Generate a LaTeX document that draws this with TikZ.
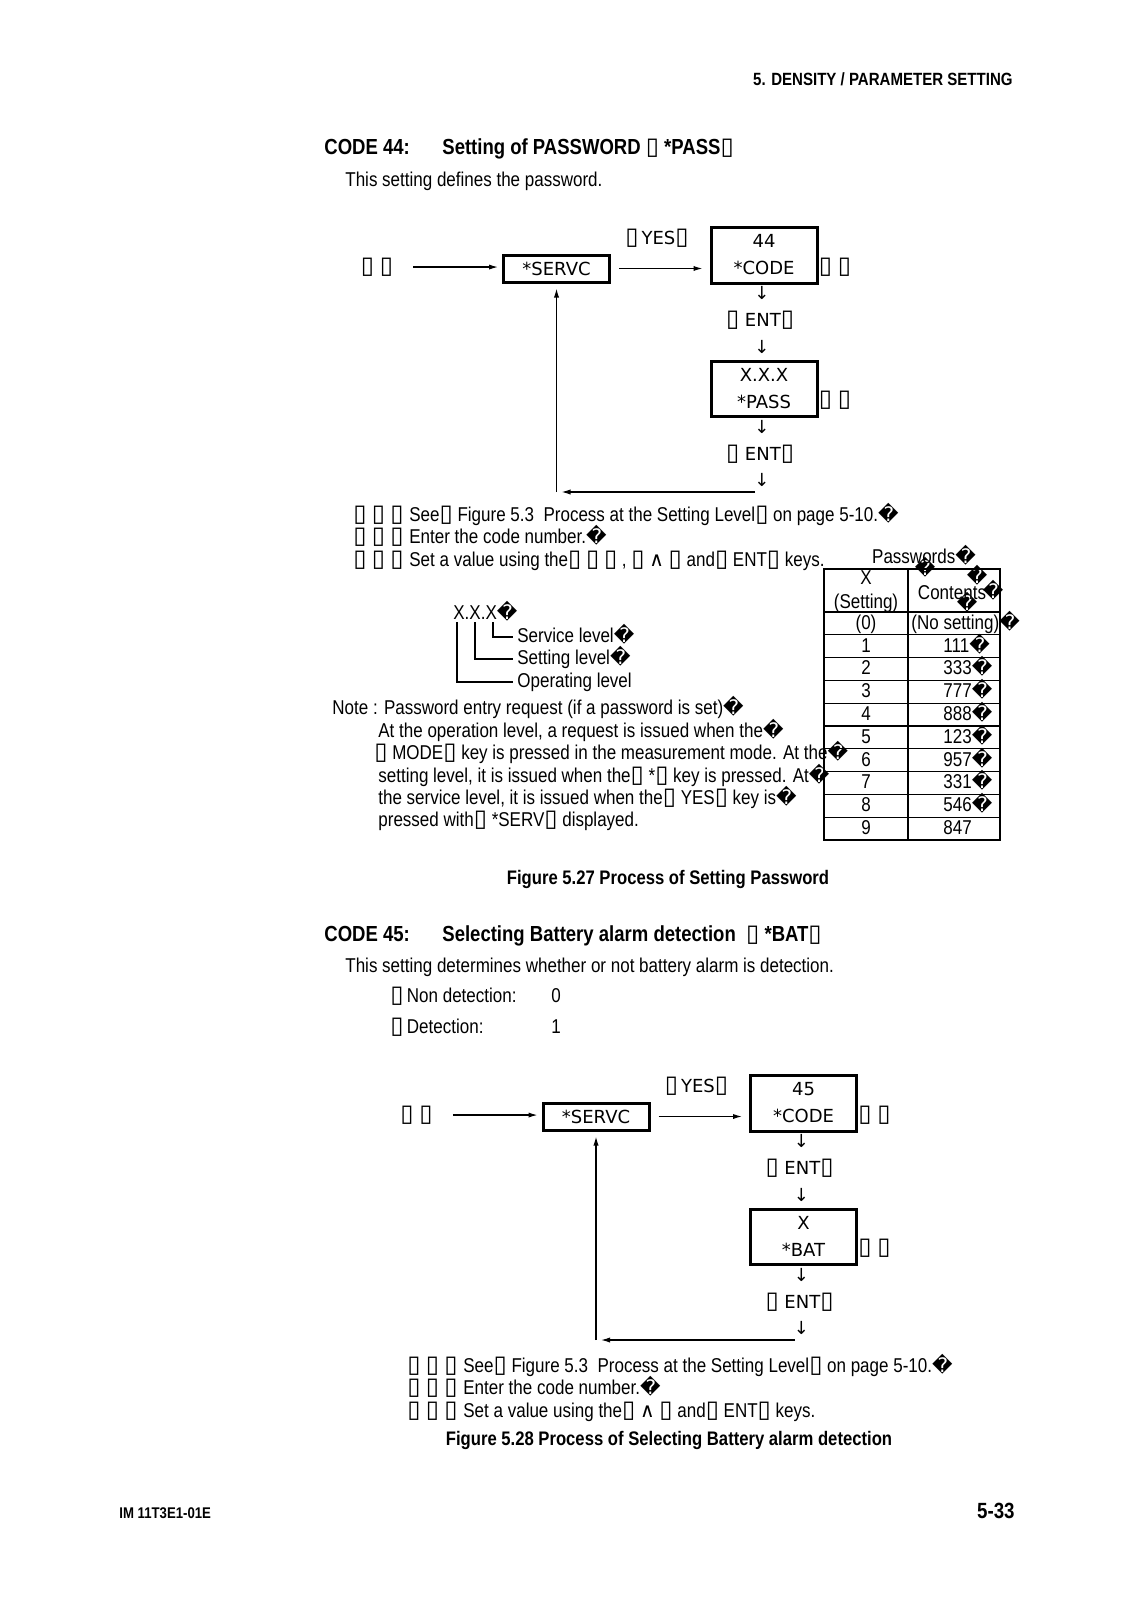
\documentclass[tikz,border=0pt]{standalone}
\usepackage{fontspec}
\setmainfont{Liberation Sans}[FakeStretch=0.85]
\newfontfamily\dv{DejaVu Sans}
\usetikzlibrary{arrows.meta}
\newcommand\tofu{{\dv\fontsize{12}{12}\selectfont ▯}}
\newcommand\rpl{{\dv �}}
\newcommand\tofus{\makebox[9.25pt][l]{\tofu}\makebox[9.25pt][l]{\tofu}\tofu}
\tikzset{
  every node/.style={inner sep=0pt},
  body/.style={anchor=mid west, font=\fontsize{10}{11}\selectfont},
  bodyc/.style={anchor=mid, font=\fontsize{10}{11}\selectfont},
  hd/.style={anchor=mid west, font=\bfseries\fontsize{10.9}{12}\selectfont},
  figcap/.style={anchor=mid, font=\bfseries\fontsize{9.8}{11}\selectfont},
  dvt/.style={anchor=mid, font=\dv\fontsize{9}{13.5}\selectfont, align=center},
  lcd/.style={draw, line width=1.5pt, minimum width=53pt, align=center, font=\dv\fontsize{9}{13.5}\selectfont},
  arr/.style={line width=0.6pt, -{Latex[length=4.5pt,width=2.6pt]}},
  thinline/.style={line width=0.6pt},
}
\newcommand\myflow[4]{%
\begin{scope}[shift={#2}]
\node[dvt] (#1a) at (377,268) {\tofu\ \tofu};
\node[lcd, minimum height=13.5pt] (#1s) at (556.5,268.5) {*SERVC};
\node[lcd, minimum height=28pt] (#1c) at (764,255) {#3\\*CODE};
\node[dvt] (#1y) at (657,239) {\tofu\,YES\tofu};
\node[dvt] (#1rA) at (835,268) {\tofu\ \tofu};
\node[dvt] (#1dA) at (762,294) {↓};
\node[dvt] (#1eA) at (760,321) {\tofu\ ENT\tofu};
\node[dvt] (#1dB) at (762,348) {↓};
\node[lcd, minimum height=27.5pt] (#1p) at (764,388.5) {#4};
\node[dvt] (#1rB) at (835,401) {\tofu\ \tofu};
\node[dvt] (#1dC) at (762,428) {↓};
\node[dvt] (#1eB) at (760,455) {\tofu\ ENT\tofu};
\node[dvt] (#1dD) at (762,481) {↓};
\draw[arr, shorten <=10pt, shorten >=2pt] (#1a.east) -- (#1a.east -| #1s.west);
\draw[arr, shorten <=4pt, shorten >=3.5pt] (#1s.east) -- (#1s.east -| #1c.west);
\coordinate (#1b) at (755,492);
\draw[arr, shorten >=2.5pt] (#1b) -- (#1b -| #1s.south);
\draw[arr, shorten >=2.5pt] (#1b -| #1s.south) -- (#1s.south);
\end{scope}}
\begin{document}
\begin{tikzpicture}[x=0.5pt, y=-0.5pt]
\useasboundingbox (0,0) rectangle (1131,1600);
% header
\node[anchor=mid east, font=\bfseries\fontsize{8.85}{10}\selectfont] (hdr) at (1013,80) {5. DENSITY / PARAMETER SETTING};
% CODE 44
\node[hd] (c44) at (324,149) {CODE 44:};
\node[hd] (c44t) at (442,149) {Setting of PASSWORD \tofu\ *PASS\tofu};
\node[body] (c44d) at (345,181) {This setting defines the password.};
\myflow{f}{(0,0)}{44}{X.X.X\\*PASS}
% steps 1
\node[body] (s1n) at (353,516) {\tofus};
\node[body] (s1a) at (409,516) {See\tofu\ Figure 5.3\ \ Process at the Setting Level\tofu\ on page 5-10.\rpl};
\node[body] (s2n) at (353,538) {\tofus};
\node[body] (s2a) at (409,538) {Enter the code number.\rpl};
\node[body] (s3n) at (353,561) {\tofus};
\node[body] (s3a) at (409,561) {Set a value using the\tofu\ \tofu\ \tofu\ , \tofu\ {\dv ∧}\ \tofu\ and\tofu\ ENT\tofu\ keys.};
% X.X.X tree
\node[body] (xxx) at (453,614) {X.X.X\rpl};
\draw[thinline] (457,622) |- (513,682);
\draw[thinline] (475,622) |- (513,659);
\draw[thinline] (493,622) |- (513,637);
\node[body] (lv1) at (517,637) {Service level\rpl};
\node[body] (lv2) at (517,659) {Setting level\rpl};
\node[body] (lv3) at (517,682) {Operating level};
% note
\node[body] (n1) at (332,709) {Note : Password entry request (if a password is set)\rpl};
\node[body] (n2) at (378,732) {At the operation level, a request is issued when the\rpl};
\node[body] (n3) at (374,754) {\tofu\ MODE\tofu\ key is pressed in the measurement mode. At the\rpl};
\node[body] (n4) at (378,777) {setting level, it is issued when the\tofu\ *\tofu\ key is pressed. At\rpl};
\node[body] (n5) at (378,799) {the service level, it is issued when the\tofu\ YES\tofu\ key is\rpl};
\node[body] (n6) at (378,821) {pressed with\tofu\ *SERV\tofu\ displayed.};
% table
\node[bodyc] (pw) at (924,558) {Passwords\rpl};
\draw[thinline] (824,569) rectangle (1000,840);
\draw[thinline] (908,569) -- (908,840);
\foreach \i in {0,...,9} \draw[thinline] (824,612+22.8*\i) -- (1000,612+22.8*\i);
\node[bodyc] (tx) at (866,579) {X};
\node[bodyc] (ts) at (866,603) {(Setting)};
\node[bodyc] (tc) at (952,594) {Contents};
\node[bodyc] (q1) at (925,570) {\rpl};
\node[bodyc] (q2) at (977,578) {\rpl};
\node[bodyc] (q3) at (993,593) {\rpl};
\node[bodyc] (q4) at (967,605) {\rpl};
\node[bodyc] (r0a) at (866,624) {(0)};
\node[body] (r0b) at (911,624) {(No setting)\rpl};
\foreach \n/\v [count=\i] in {1/111\rpl,2/333\rpl,3/777\rpl,4/888\rpl,5/123\rpl,6/957\rpl,7/331\rpl,8/546\rpl,9/847}{
  \node[bodyc] (ra\i) at (866,624+22.8*\i) {\n};
  \node[body] (rb\i) at (943,624+22.8*\i) {\v};
}
% caption 1
\node[figcap] (cap1) at (668,879) {Figure 5.27 Process of Setting Password};
% CODE 45
\node[hd] (c45) at (324,936) {CODE 45:};
\node[hd] (c45t) at (442,936) {Selecting Battery alarm detection \ \tofu\ *BAT\tofu};
\node[body] (c45d) at (345,967) {This setting determines whether or not battery alarm is detection.};
\node[body] (o1) at (390,997) {\tofu\,Non detection:};
\node[body] (o1v) at (551,997) {0};
\node[body] (o2) at (390,1028) {\tofu\,Detection:};
\node[body] (o2v) at (551,1028) {1};
\myflow{g}{(39.5,848)}{45}{X\\*BAT}
% steps 2
\node[body] (t1n) at (407,1367) {\tofus};
\node[body] (t1a) at (463,1367) {See\tofu\ Figure 5.3\ \ Process at the Setting Level\tofu\ on page 5-10.\rpl};
\node[body] (t2n) at (407,1389) {\tofus};
\node[body] (t2a) at (463,1389) {Enter the code number.\rpl};
\node[body] (t3n) at (407,1412) {\tofus};
\node[body] (t3a) at (463,1412) {Set a value using the\tofu\ {\dv ∧}\ \tofu\ and\tofu\ ENT\tofu\ keys.};
\node[figcap] (cap2) at (669,1440) {Figure 5.28 Process of Selecting Battery alarm detection};
% footer
\node[anchor=mid west, font=\bfseries\fontsize{7.75}{9}\selectfont] (ft1) at (119,1513) {IM 11T3E1-01E};
\node[anchor=mid east, font=\bfseries\fontsize{11}{13}\selectfont] (ft2) at (1015,1513) {5-33};
\end{tikzpicture}
\end{document}
